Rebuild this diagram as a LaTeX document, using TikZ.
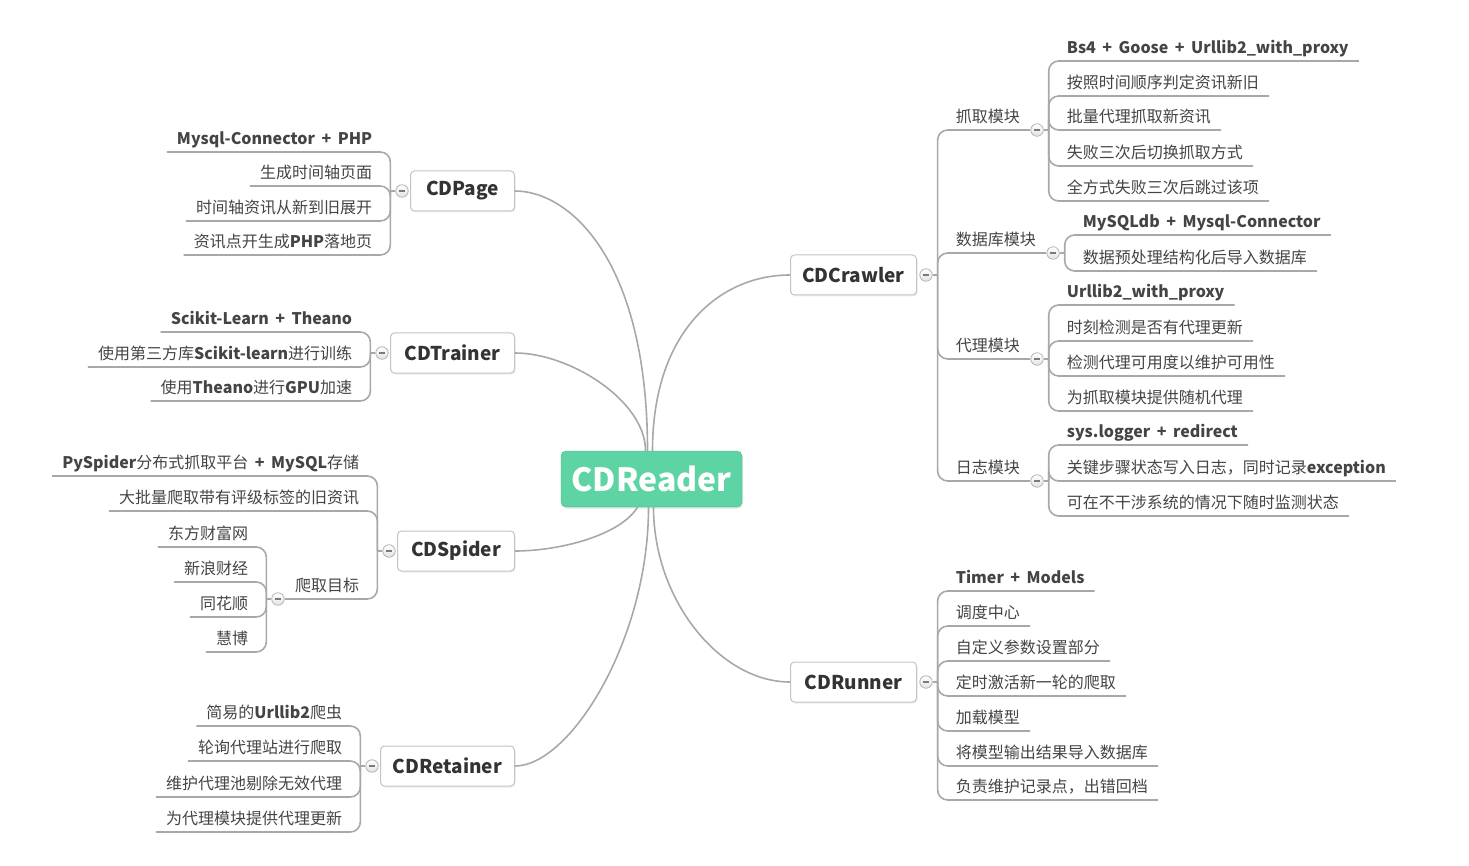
\documentclass[tikz,border=0pt]{standalone}
\usepackage{fontspec}
\setmainfont{Noto Sans CJK SC}
\usepackage{tikz}
\usetikzlibrary{shadows}
\definecolor{linkgray}{HTML}{A8A8A8}
\definecolor{boxgray}{HTML}{C4C4C4}
\definecolor{leafgray}{HTML}{444444}
\definecolor{branchgray}{HTML}{333333}
\definecolor{rootgreen}{HTML}{5ED4A4}
\definecolor{foldgray}{HTML}{B4B4B4}
\definecolor{minusgray}{HTML}{7A7A7A}
\newcommand{\widespaces}{\spaceskip=6.5pt\relax}
\tikzset{link/.style={draw=linkgray,line width=1.6pt},
    leaf/.style={inner xsep=10pt,inner ysep=3pt,text height=12pt,text depth=4pt,text=leafgray,font=\fontsize{16}{18}\selectfont\widespaces},
    branch/.style={draw=boxgray,fill=white,rounded corners=4pt,line width=1pt,minimum height=40pt,inner xsep=10pt,text=branchgray,font=\bfseries\fontsize{19}{22}\selectfont,drop shadow={opacity=0.15,shadow xshift=1pt,shadow yshift=-1.5pt}},
    rootbox/.style={fill=rootgreen,draw=rootgreen!85!black,rounded corners=5pt,minimum width=181pt,minimum height=56pt,text=white,font=\bfseries\fontsize{32}{36}\selectfont,drop shadow={opacity=0.2,shadow xshift=1pt,shadow yshift=-1.5pt}},
    fold/.style={circle,draw=foldgray,top color=white,bottom color=gray!22,minimum size=12.5pt,inner sep=0pt,line width=0.8pt}
}
\newcommand{\foldmark}{\textcolor{minusgray}{\rule[-0.6pt]{6pt}{1.2pt}}}
\newcommand{\leavesright}[3]
{
% args: (fold node, prefix of leaf names, list of y/text pairs)
    \coordinate (#2fork) at ([xshift=5pt]#1.east);
    \draw [link] (#1.east) -- (#2fork);
    \foreach \y/\txt [count=\i] in {#3}
    {
        \node (#2\i) [leaf,anchor=south west,xshift=8pt] at (#2fork |- 0,\y) {\txt};
        \draw [link,rounded corners=10pt] (#2fork) |- (#2\i.south east);
    }
}
\newcommand{\leavesleft}[3]
{
% args: (fold node, prefix of leaf names, list of y/text pairs)
    \coordinate (#2fork) at ([xshift=-5pt]#1.west);
    \draw [link] (#1.west) -- (#2fork);
    \foreach \y/\txt [count=\i] in {#3}
    {
        \node (#2\i) [leaf,anchor=south east,xshift=-8pt] at (#2fork |- 0,\y) {\txt};
        \draw [link,rounded corners=10pt] (#2fork) |- (#2\i.south west);
    }
}
\begin{document}
\begin{tikzpicture}[x=1pt,y=-1pt]
\useasboundingbox (0,0) rectangle (1469,866);

% central topic and its six modules
\node (reader) [rootbox] at (651.5,479) {CDReader};

\node (page) [branch,anchor=east,minimum width=104pt] at (515,191) {CDPage};
\node (trainer) [branch,anchor=east,minimum width=124pt] at (515,353) {CDTrainer};
\node (spider) [branch,anchor=east,minimum width=117pt] at (515,551) {CDSpider};
\node (retainer) [branch,anchor=east,minimum width=134pt] at (515,766) {CDRetainer};
\node (crawler) [branch,anchor=west,minimum width=126pt] at (790,275) {CDCrawler};
\node (runner) [branch,anchor=west,minimum width=126pt] at (790,682) {CDRunner};

\draw [link] ([xshift=-4pt]reader.north) .. controls +(0,-190) and +(55,0) .. (page.east);
\draw [link] ([xshift=-6pt]reader.north) .. controls +(0,-50) and +(55,0) .. (trainer.east);
\draw [link] ([xshift=1pt]reader.north) .. controls +(0,-120) and +(-70,0) .. (crawler.west);
\draw [link] ([xshift=-14pt]reader.south) .. controls +(-17,28) and +(45,0) .. (spider.east);
\draw [link] ([xshift=-3pt]reader.south) .. controls +(0,133) and +(55,0) .. (retainer.east);
\draw [link] ([xshift=2pt]reader.south) .. controls +(0,93) and +(-70,0) .. (runner.west);

\node (pagefold) [fold] at ([xshift=-8pt]page.west) {\foldmark};
\node (trainerfold) [fold] at ([xshift=-8pt]trainer.west) {\foldmark};
\node (spiderfold) [fold] at ([xshift=-8pt]spider.west) {\foldmark};
\node (retainerfold) [fold] at ([xshift=-8pt]retainer.west) {\foldmark};
\node (crawlerfold) [fold] at ([xshift=9pt]crawler.east) {\foldmark};
\node (runnerfold) [fold] at ([xshift=9pt]runner.east) {\foldmark};

% left side
\leavesleft{pagefold}{page}{152/\textbf{Mysql-Connector + PHP},186/生成时间轴页面,221/时间轴资讯从新到旧展开,255/资讯点开生成\textbf{PHP}落地页}
\leavesleft{trainerfold}{train}{332/\textbf{Scikit-Learn + Theano},367/使用第三方库\textbf{Scikit-learn}进行训练,401/使用\textbf{Theano}进行\textbf{GPU}加速}
\leavesleft{spiderfold}{spid}{476/\textbf{PySpider}分布式抓取平台 \textbf{+ MySQL}存储,511/大批量爬取带有评级标签的旧资讯,599/爬取目标}
\node (targetfold) [fold] at ([xshift=-7pt]spid3.south west) {\foldmark};
\leavesleft{targetfold}{target}{547/东方财富网,582/新浪财经,617/同花顺,652/慧博}
\leavesleft{retainerfold}{retain}{726/简易的\textbf{Urllib2}爬虫,761/轮询代理站进行爬取,797/维护代理池剔除无效代理,832/为代理模块提供代理更新}

% right side
\leavesright{crawlerfold}{mod}{130/抓取模块,253/数据库模块,359/代理模块,481/日志模块}
\node (grabfold) [fold] at ([xshift=7pt]mod1.south east) {\foldmark};
\node (dbfold) [fold] at ([xshift=7pt]mod2.south east) {\foldmark};
\node (proxyfold) [fold] at ([xshift=7pt]mod3.south east) {\foldmark};
\node (logfold) [fold] at ([xshift=7pt]mod4.south east) {\foldmark};
\leavesright{grabfold}{grab}{61/\textbf{Bs4 + Goose + Urllib2\_with\_proxy},96/按照时间顺序判定资讯新旧,130/批量代理抓取新资讯,166/失败三次后切换抓取方式,201/全方式失败三次后跳过该项}
\leavesright{dbfold}{db}{235/\textbf{MySQLdb + Mysql-Connector},271/数据预处理结构化后导入数据库}
\leavesright{proxyfold}{proxy}{305/\textbf{Urllib2\_with\_proxy},341/时刻检测是否有代理更新,376/检测代理可用度以维护可用性,411/为抓取模块提供随机代理}
\leavesright{logfold}{log}{445/\textbf{sys.logger + redirect},481/关键步骤状态写入日志，同时记录\textbf{exception},516/可在不干涉系统的情况下随时监测状态}
\leavesright{runnerfold}{run}{591/\textbf{Timer + Models},626/调度中心,661/自定义参数设置部分,696/定时激活新一轮的爬取,731/加载模型,766/将模型输出结果导入数据库,800/负责维护记录点，出错回档}

\end{tikzpicture}
\end{document}
